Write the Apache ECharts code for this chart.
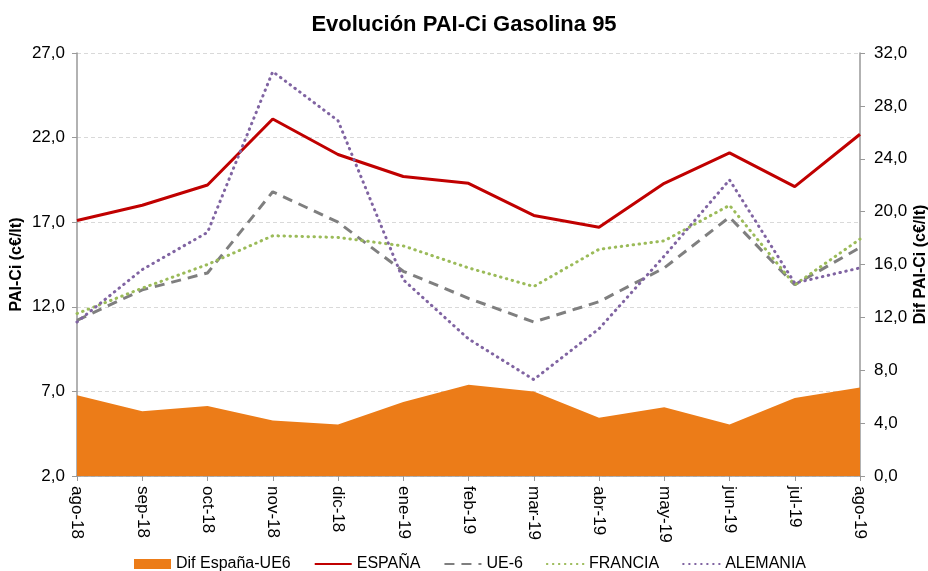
<!DOCTYPE html>
<html>
<head>
<meta charset="utf-8">
<script src="https://cdn.jsdelivr.net/npm/echarts@6/dist/echarts.min.js"></script>
<style>
  html, body { margin: 0; padding: 0; background: #fff; }
  #chart { width: 928px; height: 571px; }
</style>
</head>
<body>
<div id="chart"></div>
<script>
// meses
const categories = ['ago-18', 'sep-18', 'oct-18', 'nov-18', 'dic-18', 'ene-19', 'feb-19', 'mar-19', 'abr-19', 'may-19', 'jun-19', 'jul-19', 'ago-19'];
// PAI-Ci (c€/lt), eje izquierdo
const espana = [17.1, 18.0, 19.2, 23.1, 21.0, 19.7, 19.3, 17.4, 16.7, 19.3, 21.1, 19.1, 22.2];
const ue6 = [11.2, 13.0, 14.0, 18.8, 17.0, 14.1, 12.5, 11.1, 12.3, 14.3, 17.3, 13.3, 15.5];
const francia = [11.6, 13.1, 14.5, 16.2, 16.1, 15.6, 14.3, 13.2, 15.4, 15.9, 18.0, 13.3, 16.0];
const alemania = [11.1, 14.2, 16.4, 25.9, 23.0, 13.6, 10.1, 7.7, 10.7, 15.0, 19.5, 13.4, 14.3];
// diferencia España - UE6, eje derecho
const difEspanaUE6 = [6.1, 4.9, 5.3, 4.2, 3.9, 5.6, 6.9, 6.4, 4.4, 5.2, 3.9, 5.9, 6.7];

const font = 'Liberation Sans, Arial, sans-serif';
const fmt = v => v.toFixed(1).replace('.', ',');
// sin simbolo en la leyenda de las lineas
const noSymbol = { opacity: 0 };

const chart = echarts.init(document.getElementById('chart'));

const option = {
  animation: false,
  backgroundColor: '#fff',
  title: {
    text: 'Evolución PAI-Ci Gasolina 95',
    left: 'center',
    top: 9,
    textStyle: { fontFamily: font, fontSize: 22, fontWeight: 'bold', color: '#000' }
  },
  grid: { left: 77, right: 68, top: 53, bottom: 95, outerBoundsMode: 'none' },
  legend: {
    top: 551,
    left: 129,
    itemWidth: 37,
    itemHeight: 10,
    itemGap: 23,
    textStyle: { fontFamily: font, fontSize: 16, color: '#000' },
    data: [
      { name: 'Dif España-UE6', icon: 'rect' },
      { name: 'ESPAÑA', itemStyle: noSymbol },
      { name: 'UE-6', itemStyle: noSymbol },
      { name: 'FRANCIA', itemStyle: noSymbol },
      { name: 'ALEMANIA', itemStyle: noSymbol }
    ]
  },
  xAxis: {
    type: 'category',
    data: categories,
    boundaryGap: false,
    axisLine: { lineStyle: { color: '#999', width: 1.5 } },
    axisTick: { show: true, length: 5, lineStyle: { color: '#999' } },
    axisLabel: { rotate: -90, margin: 10, fontFamily: font, fontSize: 17, color: '#000' }
  },
  yAxis: [
    {
      type: 'value',
      min: 2,
      max: 27,
      interval: 5,
      name: 'PAI-Ci (c€/lt)',
      nameLocation: 'middle',
      nameGap: 52,
      nameMoveOverlap: false,
      nameTextStyle: { fontFamily: font, fontSize: 16, fontWeight: 'bold', color: '#000' },
      axisLine: { show: true, lineStyle: { color: '#999', width: 1.5 } },
      axisTick: { show: true, length: 5, lineStyle: { color: '#999' } },
      axisLabel: { margin: 12, fontFamily: font, fontSize: 17, color: '#000', formatter: fmt },
      splitLine: { show: true, lineStyle: { color: '#d9d9d9', type: [4, 3] } }
    },
    {
      type: 'value',
      min: 0,
      max: 32,
      interval: 4,
      position: 'right',
      name: 'Dif PAI-Ci (c€/lt)',
      nameLocation: 'middle',
      nameRotate: 90,
      nameGap: 53,
      nameMoveOverlap: false,
      nameTextStyle: { fontFamily: font, fontSize: 16, fontWeight: 'bold', color: '#000' },
      axisLine: { show: true, lineStyle: { color: '#999', width: 1.5 } },
      axisTick: { show: true, length: 5, lineStyle: { color: '#999' } },
      axisLabel: { margin: 14, fontFamily: font, fontSize: 17, color: '#000', formatter: fmt },
      splitLine: { show: false }
    }
  ],
  series: [
    {
      name: 'Dif España-UE6',
      type: 'line',
      yAxisIndex: 1,
      data: difEspanaUE6,
      symbol: 'none',
      color: '#ec7c18',
      lineStyle: { width: 0 },
      areaStyle: { color: '#ec7c18', opacity: 1 }
    },
    {
      name: 'ESPAÑA',
      type: 'line',
      data: espana,
      symbol: 'none',
      color: '#c00000',
      lineStyle: { width: 3, color: '#c00000' }
    },
    {
      name: 'UE-6',
      type: 'line',
      data: ue6,
      symbol: 'none',
      color: '#7f7f7f',
      lineStyle: { width: 3, color: '#7f7f7f', type: [10, 7] }
    },
    {
      name: 'FRANCIA',
      type: 'line',
      data: francia,
      symbol: 'none',
      color: '#9bbb59',
      lineStyle: { width: 3, color: '#9bbb59', type: [0.5, 5.5], cap: 'round' }
    },
    {
      name: 'ALEMANIA',
      type: 'line',
      data: alemania,
      symbol: 'none',
      color: '#8064a2',
      lineStyle: { width: 3, color: '#8064a2', type: [0.5, 5.5], cap: 'round' }
    }
  ]
};

chart.setOption(option);
</script>
</body>
</html>
